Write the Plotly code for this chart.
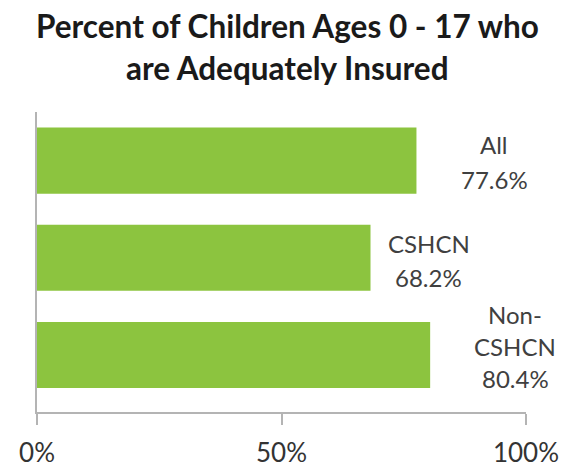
import plotly.graph_objects as go

# Share of children ages 0-17 who are adequately insured
categories = ["All", "CSHCN", "Non-CSHCN"]
values = [77.6, 68.2, 80.4]
tick_values = [0, 50, 100]
tick_labels = ["0%", "50%", "100%"]

# Label placement relative to each bar end / bar centre (pixels)
label_xshift = [78, 58, 85]
label_yshift = [-1.5, -3, 8.5]
label_line_gap = [35, 34, 32]

W, H = 567, 471
M_L, M_R, M_T, M_B = 37, 41, 112, 59
PLOT_H = H - M_T - M_B
axis_grey = "#B4B4B4"
bar_green = "#8CC43F"
font = "Lato"

fig = go.Figure(
    go.Bar(
        x=values,
        y=categories,
        orientation="h",
        marker=dict(color=bar_green, line=dict(width=0)),
        hoverinfo="skip",
    )
)

# Value labels: one annotation per text line so the line gap can be set
for cat, val, dx, dy, gap in zip(categories, values, label_xshift,
                                 label_yshift, label_line_gap):
    lines = cat.replace("Non-", "Non-\n").split("\n") + [f"{val:.1f}%"]
    n = len(lines)
    for i, line in enumerate(lines):
        fig.add_annotation(
            x=val, y=cat, xref="x", yref="y",
            text=line, showarrow=False,
            xanchor="center", yanchor="middle",
            xshift=dx, yshift=dy + ((n - 1) / 2 - i) * gap,
            font=dict(family=font, size=24, color="#404040"),
        )

# Two-line title
title_lines = ["Percent of Children Ages 0 - 17 who", "are Adequately Insured"]
title_centres = [26, 68]  # pixel rows from the top of the page
for line, cy in zip(title_lines, title_centres):
    fig.add_annotation(
        x=291 / W, xref="paper", xanchor="center",
        y=1 + (M_T - cy) / PLOT_H, yref="paper", yanchor="middle",
        text=f"<b>{line}</b>", showarrow=False,
        font=dict(family=font, size=31.5, color="#1A1A1A"),
    )

fig.update_layout(
    width=W, height=H,
    margin=dict(l=M_L, r=M_R, t=M_T, b=M_B, autoexpand=False),
    paper_bgcolor="white", plot_bgcolor="white",
    bargap=0.32,
    showlegend=False,
    xaxis=dict(
        range=[0, 100], tickvals=tick_values, ticktext=tick_labels,
        ticks="outside", ticklen=11, tickwidth=2, tickcolor=axis_grey,
        showline=True, linecolor=axis_grey, linewidth=2,
        showgrid=False, zeroline=False, ticklabelstandoff=6,
        automargin=False,
        tickfont=dict(family=font, size=26, color="#333333"),
    ),
    yaxis=dict(
        categoryorder="array", categoryarray=categories, autorange="reversed",
        showline=True, linecolor=axis_grey, linewidth=2, automargin=False,
        showticklabels=False, ticks="", showgrid=False, zeroline=False,
    ),
)

fig.write_html("out.html")
